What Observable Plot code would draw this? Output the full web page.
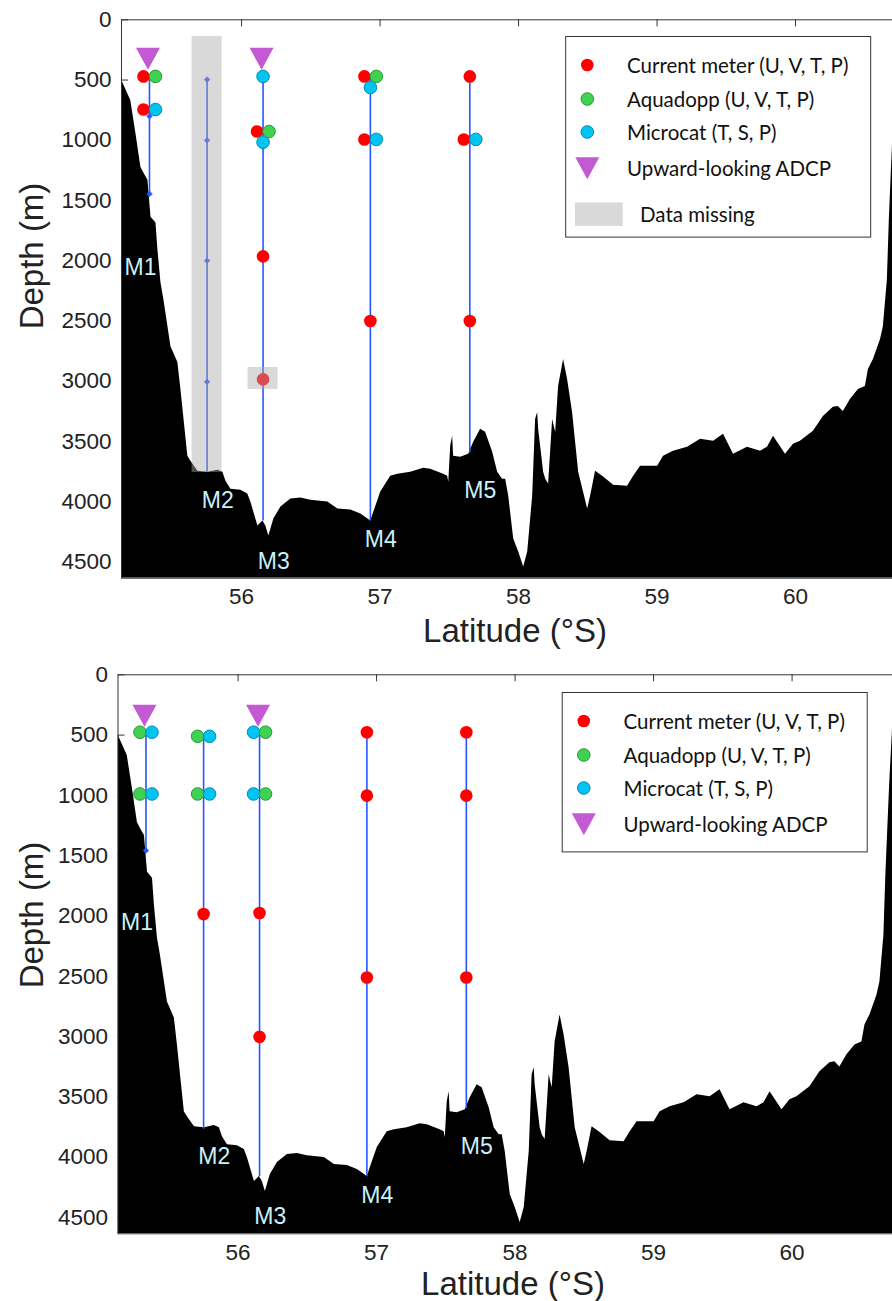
<!DOCTYPE html>
<html><head><meta charset="utf-8">
<script src="https://cdn.jsdelivr.net/npm/d3@7"></script>
<script src="https://cdn.jsdelivr.net/npm/@observablehq/plot@0.6"></script>
<style>
body{margin:0;background:#fff}
#chart{width:892px;position:relative}
#chart svg{display:block}
</style>
</head><body><div id="chart"></div>
<script>
// ---------- data ----------
// bathymetry profile: [latitude °S, depth m]
const bathymetry = [
[55.133,505],[55.136,505],[55.20,670],[55.237,943],[55.273,1224],[55.295,1274],[55.324,1332],[55.346,1638],
[55.382,1687],[55.396,1911],[55.418,2184],[55.439,2324],[55.49,2713],[55.54,2845],[55.562,3069],[55.612,3623],
[55.634,3664],[55.685,3747],[55.757,3755],[55.829,3738],[55.865,3755],[55.887,3830],[55.923,3896],[55.995,3904],
[56.045,3937],[56.067,4003],[56.118,4202],[56.154,4160],[56.175,4202],[56.197,4284],[56.233,4144],[56.284,4044],
[56.356,3978],[56.428,3970],[56.50,3987],[56.623,4003],[56.695,4061],[56.789,4069],[56.861,4102],[56.933,4160],
[56.955,4086],[57.005,3920],[57.077,3788],[57.128,3772],[57.221,3755],[57.315,3722],[57.366,3730],[57.459,3772],
[57.488,3788],[57.496,3838],[57.51,3540],[57.524,3457],[57.531,3623],[57.582,3631],[57.64,3606],[57.676,3507],
[57.726,3399],[57.762,3424],[57.813,3590],[57.849,3755],[57.885,3813],[57.907,3813],[57.929,3954],[57.965,4309],
[58.001,4417],[58.037,4541],[58.066,4417],[58.102,3954],[58.123,3317],[58.138,3259],[58.145,3399],[58.181,3755],
[58.196,3813],[58.217,3854],[58.246,3317],[58.268,3424],[58.289,3044],[58.325,2820],[58.354,2986],[58.39,3259],
[58.434,3755],[58.499,4061],[58.52,3954],[58.556,3747],[58.614,3796],[58.686,3863],[58.787,3871],[58.831,3788],
[58.881,3705],[59.004,3705],[59.047,3623],[59.119,3581],[59.22,3548],[59.314,3482],[59.408,3499],[59.48,3441],
[59.552,3606],[59.653,3548],[59.747,3581],[59.797,3548],[59.841,3457],[59.927,3606],[59.985,3524],[60.035,3499],
[60.129,3416],[60.201,3292],[60.273,3217],[60.309,3209],[60.345,3251],[60.396,3151],[60.454,3069],[60.504,3044],
[60.526,2903],[60.562,2820],[60.613,2655],[60.634,2547],[60.663,2159],[60.677,1662],[60.692,1249],[60.705,900],[60.725,450]
];

const moorings   = ["M1","M2","M3","M4","M5"];
const mooringLat = [55.335, 55.751, 56.155, 56.93, 57.648];
const labelLat   = [55.27, 55.828, 56.232, 57.005, 57.723];
const labelDepth = [2053, 3994, 4495, 4315, 3911];

const typeCodes = ["CM","AQ","MC"];
const typeNames = ["Current meter (U, V, T, P)","Aquadopp (U, V, T, P)","Microcat (T, S, P)"];
const adcpName = "Upward-looking ADCP";
const missingName = "Data missing";

const xTicks = [56, 57, 58, 59, 60];
const yTicks = [0, 500, 1000, 1500, 2000, 2500, 3000, 3500, 4000, 4500];
const xTitle = "Latitude (°S)";
const yTitle = "Depth (m)";

// Deployment 1 (upper panel)
const d1LineTop    = [470, 496, 470, 470, 470];
const d1LineBottom = [1445, 3755, 4160, 4160, 3595];
const d1InstMooring = ["M1","M1","M1","M1","M3","M3","M3","M3","M3","M3","M4","M4","M4","M4","M4","M4","M5","M5","M5","M5"];
const d1InstType    = ["CM","AQ","CM","MC","MC","CM","AQ","MC","CM","CM","CM","AQ","MC","CM","MC","CM","CM","CM","MC","CM"];
const d1InstDepth   = [470, 470, 745, 745, 470, 927, 927, 1016,1964,2985,470, 470, 562, 993, 993, 2500,470, 993, 993, 2500];
const d1AdcpMooring = ["M1","M3"];
const d1AdcpDepth   = [322, 322];
const d1MarkMooring = ["M1","M1","M2","M2","M2","M2"];
const d1MarkDepth   = [800, 1445, 496, 1000, 1999, 3005];
const d1MissMooring = ["M2","M3"];
const d1MissTop     = [139, 2886];
const d1MissBottom  = [3757, 3068];

// Deployment 2 (lower panel)
const d2LineTop    = [476, 510, 476, 476, 476];
const d2LineBottom = [1457, 3768, 4163, 4163, 3598];
const d2InstMooring = ["M1","M1","M1","M1","M2","M2","M2","M2","M2","M3","M3","M3","M3","M3","M3","M4","M4","M4","M5","M5","M5"];
const d2InstType    = ["AQ","MC","AQ","MC","AQ","MC","AQ","MC","CM","MC","AQ","MC","AQ","CM","CM","CM","CM","CM","CM","CM","CM"];
const d2InstDepth   = [476, 476, 988, 988, 510, 510, 988, 988, 1984,476, 476, 988, 988, 1975,3002,476, 1002,2510,476, 1002,2510];
const d2AdcpMooring = ["M1","M3"];
const d2AdcpDepth   = [338, 338];
const d2MarkMooring = ["M1"];
const d2MarkDepth   = [1457];
const d2MissMooring = [];
const d2MissTop     = [];
const d2MissBottom  = [];

// ---------- styles ----------
const W = 892;
const xMin = 55.133;
const depthMax = 4635;
const BLUE = "#2456ff";
const PURPLE = "#c45ad3";
const typeStyle = {
  CM: {fill: "#ff0000", stroke: "none"},
  AQ: {fill: "#40d052", stroke: "#2a9a3a"},
  MC: {fill: "#00c4f2", stroke: "#0a88b0"}
};
const AX_FONT = "'Liberation Sans', Arial, sans-serif";
const LG_FONT = "Lato, 'Open Sans', sans-serif";

// downward triangle symbol
const triDown = {draw(ctx, size) {
  const r = Math.sqrt(size / Math.PI);
  ctx.moveTo(-r, -r * 0.9); ctx.lineTo(r, -r * 0.9); ctx.lineTo(0, r * 0.93); ctx.closePath();
}};

const latOf = Object.fromEntries(moorings.map((m, i) => [m, mooringLat[i]]));

function drawPanel(o) {
  const innerW = W - o.marginLeft;
  const innerH = o.height - o.marginTop - o.marginBottom;
  const pxPerDeg = innerW / (o.xMax - xMin);

  const lines = moorings.map((m, i) => ({lat: mooringLat[i], top: o.lineTop[i], bottom: o.lineBottom[i]}));
  const inst = o.instMooring.map((m, i) => ({m, lat: latOf[m], type: o.instType[i], depth: o.instDepth[i]}));
  const groups = d3.group(inst, d => d.m + "|" + d.depth);
  inst.forEach(d => {
    const g = groups.get(d.m + "|" + d.depth);
    d.side = g.length > 1 ? (g.indexOf(d) === 0 ? -1 : 1) : 0;
  });
  const adcp = o.adcpMooring.map((m, i) => ({lat: latOf[m], depth: o.adcpDepth[i]}));
  const marks = o.markMooring.map((m, i) => ({lat: latOf[m], depth: o.markDepth[i]}));
  const missing = o.missMooring.map((m, i) => ({lat: latOf[m], top: o.missTop[i], bottom: o.missBottom[i]}));
  const labels = moorings.map((m, i) => ({name: m, lat: labelLat[i], depth: labelDepth[i]}));

  const dotMarks = [];
  for (const side of [-1, 0, 1]) for (const t of typeCodes) {
    const sub = inst.filter(d => d.side === side && d.type === t);
    if (sub.length) dotMarks.push(Plot.dot(sub, {x: "lat", y: "depth", r: 6.3, fill: typeStyle[t].fill,
      stroke: typeStyle[t].stroke, strokeWidth: 1, dx: side * 6}));
  }
  const halfBox = 15 / pxPerDeg;

  const svg = Plot.plot({
    width: W, height: o.height,
    marginLeft: o.marginLeft, marginRight: 0, marginTop: o.marginTop, marginBottom: o.marginBottom,
    x: {domain: [xMin, o.xMax]},
    y: {domain: [0, depthMax], reverse: true},
    style: {fontFamily: AX_FONT, fontSize: "22.5px", color: "#222", background: "white", overflow: "visible"},
    marks: [
      Plot.tickY(yTicks, {y: d => d, stroke: "#333", insetRight: innerW - 7}),
      Plot.tickX(xTicks, {x: d => d, stroke: "#333", insetBottom: innerH - 7}),
      Plot.areaY(bathymetry, {x: d => d[0], y1: d => d[1], y2: depthMax, fill: "black", clip: true}),
      Plot.ruleX(lines, {x: "lat", y1: "top", y2: "bottom", stroke: BLUE, strokeWidth: 1.6}),
      Plot.dot(marks, {x: "lat", y: "depth", r: 2.6, symbol: "diamond2", fill: BLUE, stroke: BLUE, strokeWidth: 0.5}),
      ...dotMarks,
      Plot.dot(adcp, {x: "lat", y: "depth", symbol: triDown, r: 12, fill: PURPLE, dx: -1.5}),
      Plot.rect(missing, {x1: d => d.lat - halfBox, x2: d => d.lat + halfBox, y1: "top", y2: "bottom",
        fill: "#aaaaaa", fillOpacity: 0.45}),
      Plot.text(labels, {x: "lat", y: "depth", text: "name", fill: "#c8f2fc", fontSize: 23, fontFamily: AX_FONT}),
      Plot.frame({stroke: "#333", strokeWidth: 1}),
      Plot.axisY({ticks: yTicks, tickSize: 0, tickPadding: 10, tickFormat: "d", label: null, fill: "#222"}),
      Plot.axisX({ticks: xTicks, tickSize: 0, tickPadding: 10, tickFormat: "d", label: null, fill: "#222"})
    ]
  });

  const s = d3.select(svg);
  s.append("text").attr("transform", `translate(31,${o.yTitleY}) rotate(-90)`)
    .attr("text-anchor", "middle").attr("dominant-baseline", "central")
    .style("font-family", AX_FONT).style("font-size", "33px").attr("fill", "#222").text(yTitle);
  s.append("text").attr("x", o.xTitleX).attr("y", o.xTitleY)
    .attr("text-anchor", "middle").attr("dominant-baseline", "central")
    .style("font-family", AX_FONT).style("font-size", "33px").attr("fill", "#222").text(xTitle);

  // legend
  const left = o.marginLeft + 444.7, top = 36.5;
  const rows = [65, 99, 132, 168, 214];
  const g = s.append("g").attr("text-anchor", "start");
  g.append("rect").attr("x", left).attr("y", top).attr("width", 305).attr("height", o.legendH)
    .attr("fill", "white").attr("stroke", "#333").attr("stroke-width", 1);
  const txt = (x, y, t) => g.append("text").attr("x", x).attr("y", y + 7.8)
    .attr("text-anchor", "start")
    .style("font-family", LG_FONT).style("font-size", "20.5px").attr("fill", "#111").text(t);
  typeCodes.forEach((c, i) => {
    g.append("circle").attr("cx", left + 21.6).attr("cy", rows[i]).attr("r", 6.3)
      .attr("fill", typeStyle[c].fill).attr("stroke", typeStyle[c].stroke);
    txt(left + 61.3, rows[i], typeNames[i]);
  });
  g.append("path").attr("transform", `translate(${left + 21.6},${rows[3]})`)
    .attr("d", "M-12,-10.8L12,-10.8L0,11.2Z").attr("fill", PURPLE);
  txt(left + 61.3, rows[3], adcpName);
  if (o.legendMissing) {
    g.append("rect").attr("x", left + 9.3).attr("y", rows[4] - 11.5).attr("width", 47.7).attr("height", 23.4)
      .attr("fill", "#d9d9d9");
    txt(left + 74.3, rows[4], missingName);
  }
  return svg;
}

const chart = document.getElementById("chart");
chart.appendChild(drawPanel({
  height: 656, marginLeft: 121, marginTop: 19.3, marginBottom: 78.3, xMax: 60.70,
  lineTop: d1LineTop, lineBottom: d1LineBottom,
  instMooring: d1InstMooring, instType: d1InstType, instDepth: d1InstDepth,
  adcpMooring: d1AdcpMooring, adcpDepth: d1AdcpDepth,
  markMooring: d1MarkMooring, markDepth: d1MarkDepth,
  missMooring: d1MissMooring, missTop: d1MissTop, missBottom: d1MissBottom,
  yTitleY: 256, xTitleX: 515, xTitleY: 630, legendH: 200.6, legendMissing: true
}));
chart.appendChild(drawPanel({
  height: 645, marginLeft: 117.5, marginTop: 18.3, marginBottom: 67.7, xMax: 60.725,
  lineTop: d2LineTop, lineBottom: d2LineBottom,
  instMooring: d2InstMooring, instType: d2InstType, instDepth: d2InstDepth,
  adcpMooring: d2AdcpMooring, adcpDepth: d2AdcpDepth,
  markMooring: d2MarkMooring, markDepth: d2MarkDepth,
  missMooring: d2MissMooring, missTop: d2MissTop, missBottom: d2MissBottom,
  yTitleY: 259, xTitleX: 513, xTitleY: 627, legendH: 159.4, legendMissing: false
}));
</script>
</body></html>
